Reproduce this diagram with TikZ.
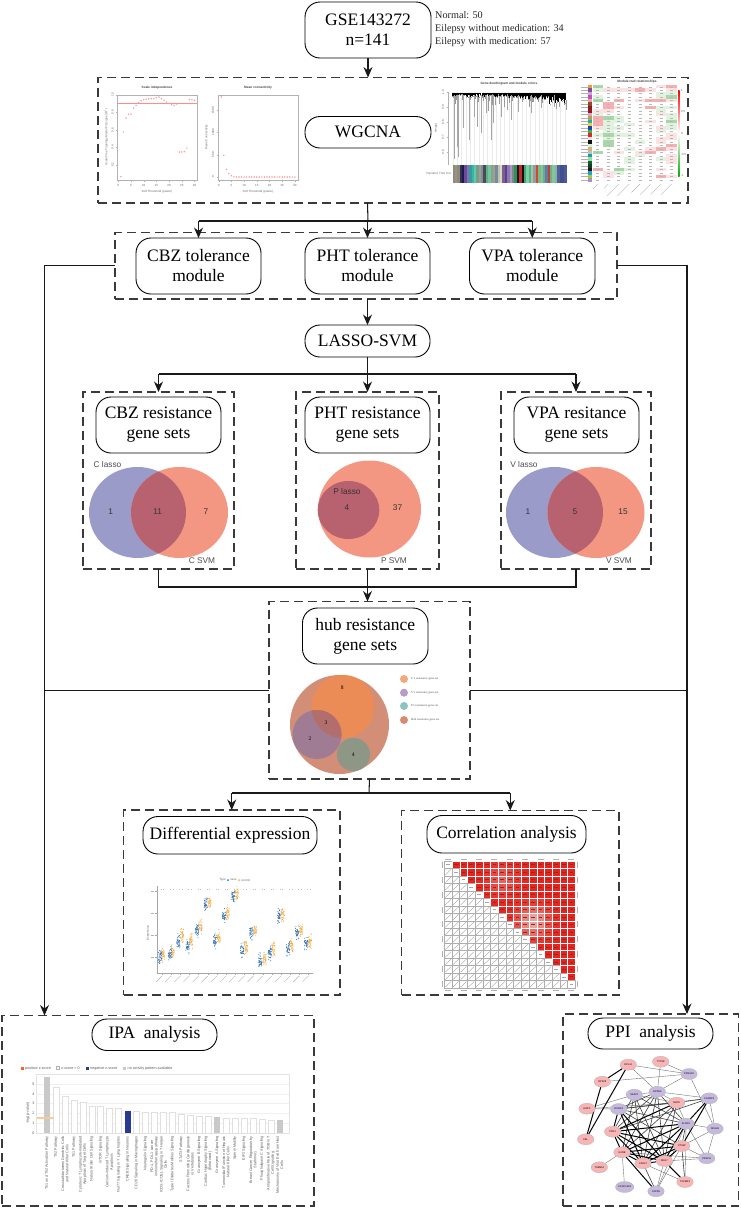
\documentclass[tikz,border=0pt]{standalone}
\usepackage{fontspec}
\setmainfont{Liberation Serif}
\setsansfont{Liberation Sans}
\usetikzlibrary{arrows.meta,backgrounds,shapes.geometric}
\definecolor{dashc}{HTML}{3A3A3A}
\definecolor{vblue}{HTML}{9A9BC9}
\definecolor{vred}{HTML}{F49782}
\definecolor{vmix}{HTML}{B9626F}
\definecolor{ppink}{HTML}{F9B5B5}
\definecolor{ppurp}{HTML}{C5BADD}
\definecolor{ipablue}{HTML}{2B3990}
\definecolor{ipagray}{HTML}{C9C9C9}
\definecolor{ipaorg}{HTML}{F26522}
\definecolor{ipathr}{HTML}{F9C998}
\definecolor{corred}{HTML}{E8221C}
\definecolor{corpale}{HTML}{E6C4C0}
\definecolor{cordark}{HTML}{8E2A28}
\definecolor{dotb}{HTML}{2E6DB4}
\definecolor{doto}{HTML}{F2A93B}
\definecolor{hmG}{HTML}{A8D8A8}
\definecolor{hmg}{HTML}{E2F2E1}
\definecolor{hmR}{HTML}{F8AFAF}
\definecolor{hmr}{HTML}{FCE3E3}
\definecolor{hubbig}{HTML}{D28E76}
\definecolor{huborg}{HTML}{EB8B55}
\definecolor{hubpur}{HTML}{A07C94}
\definecolor{hubmix}{HTML}{B26E6C}
\definecolor{hubgry}{HTML}{8E9686}
\tikzset{
  x=1pt,y=-1pt,
  titlebox/.style={draw=black,line width=0.9pt,rounded corners=15pt,align=center,inner sep=0pt,outer sep=0pt,
     font=\fontsize{17.5}{20}\selectfont},
  dbox/.style={draw=dashc,line width=1.1pt,dash pattern=on 9pt off 5pt,inner sep=0pt,outer sep=0pt},
  conn/.style={draw=black!90,line width=1.05pt},
  arr/.style={conn,-{Stealth[length=10.5pt,width=9pt,inset=3.5pt]}},
  gnode/.style={ellipse,draw=black!30,line width=0.3pt,minimum width=16.5pt,minimum height=11pt,inner sep=0pt,outer sep=0pt,
     font=\sffamily\fontsize{2.5}{3}\selectfont},
  pk/.style={gnode,fill=ppink},
  pu/.style={gnode,fill=ppurp},
  vlab/.style={font=\sffamily\fontsize{8.3}{10}\selectfont,inner sep=0pt,text=black!80},
  hublab/.style={font=\fontsize{5.5}{6}\selectfont,inner sep=0pt},
  hubleg/.style={font=\fontsize{3}{4}\selectfont,inner sep=0pt,anchor=west,text=black!70},
  tiny/.style={font=\sffamily\fontsize{3}{3.5}\selectfont,inner sep=0pt,text=black!60},
  tinyb/.style={font=\sffamily\bfseries\fontsize{3.2}{4}\selectfont,inner sep=0pt,text=black!75},
  ipatxt/.style={font=\sffamily\fontsize{3.7}{4.3}\selectfont,inner sep=0pt,text=black!65,rotate=90,anchor=east,align=center},
  ipaleg/.style={font=\sffamily\fontsize{3.7}{4.3}\selectfont,inner sep=0pt,text=black!65,anchor=west},
  strk/.style={draw=black!30,line width=0.45pt},
}
\newcommand{\tbox}[6]{%
  \pgfmathsetmacro\rsw{#4-#2}\pgfmathsetmacro\rsh{#5-#3}\pgfmathsetmacro\rscx{(#2+#4)/2}\pgfmathsetmacro\rscy{(#3+#5)/2}%
  \node[titlebox,minimum width=\rsw pt,minimum height=\rsh pt] (#1) at (\rscx,\rscy) {#6};}
\newcommand{\dbx}[5]{%
  \pgfmathsetmacro\rsw{#4-#2}\pgfmathsetmacro\rsh{#5-#3}\pgfmathsetmacro\rscx{(#2+#4)/2}\pgfmathsetmacro\rscy{(#3+#5)/2}%
  \node[dbox,minimum width=\rsw pt,minimum height=\rsh pt] (#1) at (\rscx,\rscy) {};}
\newcommand{\venn}[5]{%
  \fill[vblue] (#1,#3) ellipse[x radius=#4,y radius=#5];
  \fill[vred] (#2,#3) ellipse[x radius=#4,y radius=#5];
  \begin{scope}\clip (#1,#3) ellipse[x radius=#4,y radius=#5];
  \fill[vmix] (#2,#3) ellipse[x radius=#4,y radius=#5];\end{scope}}
\begin{document}
\begin{tikzpicture}
\useasboundingbox (0,0) rectangle (740,1208);

% ---------- titles and frames
\tbox{gse}{305}{2}{431}{58}{\fontsize{17.5}{22}\selectfont GSE143272\\n=141}
\node[anchor=north west,align=left,inner sep=0pt,font=\fontsize{10.2}{13.2}\selectfont,text=black!85] (gsetxt) at (435,11) {Normal: 50\\Eilepsy without medication: 34\\Eilepsy with medication: 57};
\dbx{wg}{98}{77.5}{688}{203}
\tbox{wgt}{305}{116.5}{431}{148}{WGCNA}
\dbx{tol}{115}{232.5}{617}{299}
\tbox{cbzt}{136}{238}{261}{294}{CBZ tolerance\\module}
\tbox{phtt}{305}{238}{430}{294}{PHT tolerance\\module}
\tbox{vpat}{469.5}{238}{595}{294}{VPA tolerance\\module}
\tbox{lasso}{305}{325}{430}{357}{LASSO-SVM}
\dbx{cres}{83}{392}{234}{569}
\dbx{mres}{296}{392}{439}{569}
\dbx{vres}{501}{392}{651}{569}
\tbox{cbzr}{96}{397}{221}{453}{CBZ resistance\\gene sets}
\tbox{phtr}{305}{397}{430}{453}{PHT resistance\\gene sets}
\tbox{vpar}{514}{397}{639}{453}{VPA resitance\\gene sets}
\dbx{hub}{269}{601.5}{470}{779}
\tbox{hubt}{302.5}{608}{428}{664}{hub resistance\\gene sets}
\dbx{diff}{123.5}{810}{340}{995}
\tbox{difft}{143}{816.5}{317}{854}{Differential expression}
\dbx{corr}{401.5}{810.5}{619}{995}
\tbox{corrt}{427}{815.5}{586}{853}{Correlation analysis}
\dbx{ipa}{2}{1015.5}{314}{1206}
\tbox{ipat}{92}{1019}{217}{1050.5}{IPA\ \ analysis}
\dbx{ppi}{563}{1014}{738.5}{1206}
\tbox{ppit}{588}{1018}{713}{1049}{PPI\ \ analysis}

% ---------- connectors
\coordinate (fk1) at (368,221);
\draw[arr] (gse.south) -- (gse.south |- wg.north);
\draw[conn] (wg.south -| phtt) -- (fk1);
\draw[conn] (fk1 -| cbzt) -- (fk1 -| vpat);
\draw[arr] (fk1 -| cbzt) -- (cbzt.north);
\draw[arr] (fk1 -| phtt) -- (phtt.north);
\draw[arr] (fk1 -| vpat) -- (vpat.north);
\draw[arr] (tol.south -| lasso) -- (lasso.north);
\coordinate (fk2) at (368,374);
\draw[conn] (lasso.south) -- (fk2 -| lasso);
\draw[conn] (fk2 -| cres) -- (fk2 -| vres);
\draw[arr] (fk2 -| cres) -- (cres.north);
\draw[arr] (fk2 -| mres) -- (mres.north);
\draw[arr] (fk2 -| vres) -- (vres.north);
\coordinate (jn) at (366,587);
\draw[conn] (cres.south) |- (jn);
\draw[conn] (vres.south) |- (jn);
\draw[arr] (mres.south) -- (mres.south |- hub.north);
\coordinate (lt) at (44.5,1015.5);
\coordinate (rt) at (687,1014);
\draw[arr] (tol.west) -| (lt);
\draw[arr] (tol.east) -| (rt);
\draw[conn] (hub.west) -- (hub.west -| lt);
\draw[conn] (hub.east) -- (hub.east -| rt);
\coordinate (fk3) at (369,793);
\draw[conn] (hub.south) -- (fk3);
\draw[conn] (fk3 -| diff) -- (fk3 -| corr);
\draw[arr] (fk3 -| diff) -- (diff.north);
\draw[arr] (fk3 -| corr) -- (corr.north);

% ---------- WGCNA: scale independence
\draw[black!30,line width=0.4pt] (117,94.7) rectangle (197,180);
\draw[black!30,line width=0.4pt] (218,94.7) rectangle (298,180);
\node[tinyb] at (157,87.7) {Scale independence};
\node[tinyb] at (258,87.7) {Mean connectivity};
\node[tiny] at (157,192) {Soft Threshold (power)};
\node[tiny] at (258,192) {Soft Threshold (power)};
\node[tiny,rotate=90] at (106,137) {Scale Free Topology Model Fit (signed R\textsuperscript{2})};
\node[tiny,rotate=90] at (206.5,137) {Mean Connectivity};
\foreach \v [count=\n from 0] in {0,5,10,15,20,25,30}{
  \pgfmathsetmacro\xa{118.3+\n*12.7}\pgfmathsetmacro\xb{218.7+\n*12.7}
  \draw[black!30,line width=0.3pt] (\xa,180) -- (\xa,181.5) (\xb,180) -- (\xb,181.5);
  \node[tiny] at (\xa,185) {\v};
  \node[tiny] at (\xb,185) {\v};
}
\foreach \v/\z in {0.2/248,0.4/196,0.6/144,0.8/90,1.0/38}{
  \pgfmathsetmacro\yy{82+\z/3}
  \draw[black!30,line width=0.3pt] (117,\yy) -- (115.5,\yy);
  \node[tiny,rotate=90] at (112.5,\yy) {\v};
}
\foreach \v/\z in {0/285,500/218,1000/150,1500/85}{
  \pgfmathsetmacro\yy{82+\z/3}
  \draw[black!30,line width=0.3pt] (218,\yy) -- (216.5,\yy);
  \node[tiny,rotate=90] at (213,\yy) {\v};
}
\draw[red!45,line width=0.5pt] (117,103.3) -- (197,103.3);
\foreach \p/\z in {1/284,2/150,3/108,4/97,5/96,6/78,7/70,8/62,9/56,10/53,11/52,12/51,13/50,14/50,15/47,16/45,17/50,18/55,19/60,20/64,21/68,22/70,23/66,24/210,25/210,26/209,27/198,28/53,29/53,30/55}{
  \fill[red!40] ({118.3+2.54*\p},{82+\z/3}) circle[radius=0.85];
}
\foreach \p/\z in {1/45,2/220,3/262,4/275,5/281,6/284,7/285,8/285,9/285,10/285,11/285,12/285,13/285,14/285,15/285,16/285,17/285,18/285,19/285,20/285,21/285,22/285,23/285,24/285,25/285,26/285,27/285,28/285,29/285,30/285}{
  \fill[red!40] ({218.7+2.54*\p},{82+\z/3}) circle[radius=0.85];
}

% ---------- WGCNA: dendrogram
\node[tinyb] at (509,84) {Gene dendrogram and module colors};
\node[tiny,rotate=90] at (436,128) {Height};
\draw[black!30,line width=0.3pt] (448,92) -- (448,165);
\foreach \v/\yy in {1.0/92,0.9/107,0.8/122,0.7/137,0.6/152}{
  \draw[black!30,line width=0.3pt] (448,\yy) -- (446.5,\yy);
  \node[tiny,rotate=90] at (443,\yy) {\v};
}
\node[tiny,anchor=east] at (451,173.7) {Dynamic Tree Cut};
\foreach \i in {0,...,26}{\draw[black!8,line width=0.3pt] ({453+\i*4.3},97) -- ({453+\i*4.3},165);}
\pgfmathsetseed{11}
\foreach \i in {0,...,112}{
  \pgfmathsetmacro\xx{452.5+\i*1.012}
  \pgfmathsetmacro\ll{94+rnd*3.5+(\i>55)*1.5+(\i>95)*rnd*6}
  \draw[black,line width=0.7pt] (\xx,92.7) -- (\xx,\ll);
  \pgfmathsetmacro\lg{\ll+rnd*rnd*rnd*24}
  \draw[black!40,line width=0.3pt] (\xx,\ll) -- (\xx,\lg);
}
\foreach \z/\d in {1020/478,1028/440,1032/470,1045/385,1062/420,1075/350,1083/380,1095/400,1110/340,1122/420,1130/370,1150/350,1168/330,1178/360,1200/335,1235/340,1262/325,1300/320}{
  \draw[black!35,line width=0.4pt] ({90+\z/2.8},95) -- ({90+\z/2.8},{\d/3});
}
\foreach \c [count=\n from 0] in {8C8C7A,9A9384,8E8A76,3A2E5C,1C1C4A,6B4C9A,8A6FB0,2E9E9E,39B5A5,5FC9A8,7A9A8C,9AA090,7E8E9A,4A4A5A,5FB07F,70C8A0,8E9F90,A0A090,6F8FA0,C8C0A8,D8D8D0,7A5F8F,5B3F90,8C79B0,A89AC0,7A8A80,2F8F5F,1A1A1A,C82828,111111,3FA87A,7FCF9F,58B090,9FC8A0,8F9F9F,E04030,6FBF8F,88C890,6FA890,5F7F9F,C04040,70B088,80C898,90B0A0,50609A,40508F,3F4F90,4A5A95}{
  \definecolor{stc}{HTML}{\c}
  \fill[stc] ({452.5+\n*2.38},165) rectangle ({452.5+\n*2.38+2.45},182.7);
}

% ---------- WGCNA: module-trait heat map
\node[tinyb] at (637,81.7) {Module-trait relationships};
\foreach \r in {0,...,27}{
  \pgfmathsetmacro\yy{85+\r*3.45}
  \draw[black!30,line width=0.4pt] (581,{\yy+1.7}) -- (587.5,{\yy+1.7});
}
\foreach \c [count=\n from 0] in {F29A2E,7A4FA8,D0A0D0,C050C0,F0A0A0,8B4A2B,8B1A1A,8B1A2B,E8A0C0,B0A060,18B0B0,F0D020,2040C0,20C040,F02020,E0E8F0,101010,D8F0D8,D0B080,C0C0C0,18A0A8,90E0A0,106030,104020,301010,20A0E0,A0D030,B090B0}{
  \definecolor{stc}{HTML}{\c}
  \fill[stc] (588.3,{85+\n*3.45}) rectangle (592.3,{85+\n*3.45+3.45});
}
\foreach \r/\c/\k in {0/0/hmG,1/0/hmg,3/0/hmg,4/0/hmG,4/2/hmR,4/4/hmr,4/5/hmR,4/6/hmR,5/1/hmR,6/1/hmR,6/2/hmr,7/1/hmr,7/0/hmr,8/0/hmg,9/0/hmR,9/1/hmG,9/2/hmg,10/0/hmR,10/1/hmg,10/2/hmg,11/0/hmR,11/1/hmg,11/3/hmg,12/0/hmr,12/1/hmg,12/2/hmg,13/1/hmg,14/0/hmg,14/1/hmG,14/2/hmg,14/3/hmg,15/1/hmg,16/1/hmG,17/1/hmG,18/3/hmg,18/5/hmr,18/6/hmR,19/0/hmG,19/2/hmr,19/4/hmr,19/5/hmR,20/4/hmg,21/3/hmg,22/3/hmg,24/0/hmR,24/2/hmG,24/3/hmg,25/1/hmr,25/2/hmg,26/1/hmr,1/1/hmr,1/2/hmr,1/3/hmr,1/4/hmR,1/5/hmr,2/6/hmg,3/6/hmg,6/5/hmR,8/6/hmr,10/5/hmr,13/6/hmg,16/4/hmg,0/6/hmr,0/7/hmR,1/7/hmr,2/7/hmg,3/7/hmG,4/7/hmr,6/6/hmg,6/7/hmg,7/6/hmg,8/7/hmg,9/7/hmg,10/7/hmG,11/7/hmg,12/6/hmr,12/7/hmg,14/7/hmr,15/6/hmr,15/7/hmr,16/6/hmr,17/7/hmR,18/7/hmr,20/7/hmr,21/6/hmg,21/7/hmr,22/7/hmr,24/6/hmr,26/6/hmR,26/7/hmr}{
  \fill[\k] ({592.5+\c*10.55},{85+\r*3.45}) rectangle ({592.5+\c*10.55+10.55},{85+\r*3.45+3.45});
}
\foreach \r in {0,...,27}{\foreach \c in {0,...,7}{
  \draw[black!28,line width=0.3pt] ({592.5+\c*10.55+3.8},{85+\r*3.45+1.7}) -- ({592.5+\c*10.55+6.8},{85+\r*3.45+1.7});
}}
\foreach \c/\l in {0/7,1/6,2/17,3/17,4/12,5/15,6/15,7/15}{
  \pgfmathsetmacro\xx{597.8+\c*10.55}
  \draw[strk,line width=0.4pt] (\xx,184) -- ({\xx-\l*0.7},{184+\l*0.7});
}
\shade[top color=red,bottom color=white] (678,90.7) rectangle (679.6,133.3);
\shade[top color=white,bottom color=green!70!black] (678,133.3) rectangle (679.6,176);
\foreach \v/\yy in {1/90.7,0.5/111.7,0/133.3,-0.5/154.3,-1/175.3}{
  \node[tiny,anchor=west] at (681,\yy) {\v};
}

% ---------- Venn diagrams
\venn{137.5}{179.5}{512.5}{48.5}{45.5}
\node[vlab,text=black!70] at (107.5,465) {C lasso};
\node[vlab] at (110.6,512) {1};
\node[vlab] at (157.6,512) {11};
\node[vlab] at (206,512) {7};
\node[vlab,text=black!70] at (202,561) {C SVM};
\fill[vred] (369.5,509) ellipse[x radius=51.5,y radius=48.5];
\fill[vmix] (348.5,510) ellipse[x radius=30.8,y radius=29];
\node[vlab] at (347,492) {P lasso};
\node[vlab] at (347,508) {4};
\node[vlab] at (397.5,508) {37};
\node[vlab,text=black!70] at (394,561) {P SVM};
\venn{554.5}{596}{512.5}{48.5}{45.5}
\node[vlab,text=black!70] at (524,465) {V lasso};
\node[vlab] at (528,512) {1};
\node[vlab] at (575,512) {5};
\node[vlab] at (623,512) {15};
\node[vlab,text=black!70] at (619,561) {V SVM};

% ---------- hub Venn
\fill[hubbig] (339.5,724.5) circle[radius=49.5];
\fill[huborg] (343,706.5) circle[radius=31.5];
\fill[hubpur] (317,734.5) circle[radius=24.5];
\begin{scope}\clip (343,706.5) circle[radius=31.5];
\fill[hubmix] (317,734.5) circle[radius=24.5];\end{scope}
\fill[hubgry] (353.5,754.5) circle[radius=16.6];
\node[hublab] at (342.3,687.7) {8};
\node[hublab] at (326,722.7) {3};
\node[hublab] at (310,738.5) {2};
\node[hublab] at (353.3,754.7) {4};
\foreach \yy/\cc/\lbl in {679/F4A978/C's resistance gene set,692.7/B79CC4/V's resistance gene set,706/8CC5BD/P's resistance gene set,720/D98B72/Hub resistance gene set}{
  \definecolor{stc}{HTML}{\cc}
  \fill[stc] (404,\yy) circle[radius=4];
  \node[hubleg] at (411,\yy) {\lbl};
}

% ---------- differential expression plot
\draw[black!35,line width=0.4pt] (156.7,886) -- (156.7,973.3) -- (313,973.3);
\foreach \yy in {890.7,912.7,934.7,956.7}{
  \draw[black!35,line width=0.3pt] (156.7,\yy) -- (155,\yy);
  \draw[strk,line width=0.4pt] (151,\yy) -- (154,\yy);
}
\node[tiny,rotate=90] at (148,933) {Expression};
\node[tiny,anchor=east] at (226,880) {Type};
\fill[dotb] (228,880) circle[radius=1];
\node[tiny,anchor=west] at (230,880) {case};
\fill[doto] (239,880) circle[radius=1];
\node[tiny,anchor=west] at (241,880) {control};
\foreach \n in {0,...,16}{
  \pgfmathsetmacro\xx{161+\n*9.15}
  \draw[black!25,line width=0.4pt,dotted] (\xx,889) -- ({\xx+4},889);
  \draw[black!35,line width=0.3pt] ({\xx+1},973.3) -- ({\xx+1},975);
  \draw[strk,line width=0.4pt] ({\xx+1},976) -- ({\xx-5},982);
}
\pgfmathsetseed{5}
\foreach \xa/\ya/\xb/\yb in {120/470/130/462,150/462/158/455,175/425/186/405,203/438/213/425,231/390/241/380,257/313/268/305,285/422/296/415,312/347/323/338,340/290/350/285,367/450/378/442,394/398/405/392,421/482/433/478,449/458/460/447,476/350/488/343,504/448/515/438,531/400/543/390,558/432/570/425}{
  \foreach \k in {1,...,40}{
    \pgfmathsetmacro\px{120+\xa/3+(rnd-0.5)*3.4}
    \pgfmathsetmacro\py{800+\ya/3+(rnd+rnd+rnd-1.5)*6.5}
    \fill[dotb] (\px,\py) circle[radius=0.48];
    \pgfmathsetmacro\qx{120+\xb/3+(rnd-0.5)*3.4}
    \pgfmathsetmacro\qy{800+\yb/3+(rnd+rnd+rnd-1.5)*6.5}
    \fill[doto] (\qx,\qy) circle[radius=0.48];
  }
}

% ---------- correlation matrix
\foreach \i in {0,...,16}{\foreach \j in {0,...,16}{
  \pgfmathsetmacro\xx{444.3+\j*7.7}
  \pgfmathsetmacro\yy{861+\i*7.47}
  \ifnum\j>\i
    \pgfmathsetmacro\tv{max(12,100-40*exp(-((\i-2)^2+(\j-7)^2)/4)-85*exp(-((\i-7.5)^2+(\j-11)^2)/4))}
    \fill[corred!\tv!corpale,draw=white,line width=0.4pt] (\xx,\yy) rectangle ({\xx+7.7},{\yy+7.47});
    \draw[cordark,line width=0.6pt] ({\xx+2},{\yy+3.7}) -- ({\xx+5.7},{\yy+3.7});
  \else
    \draw[black!32,line width=0.45pt] (\xx,\yy) rectangle ({\xx+7.7},{\yy+7.47});
    \ifnum\j<\i
      \draw[black!40,line width=0.35pt] ({\xx+1},{\yy+6.5}) -- ({\xx+6.7},{\yy+1});
    \else
      \draw[black!35,line width=0.5pt] ({\xx+2},{\yy+3.7}) -- ({\xx+5.7},{\yy+3.7});
    \fi
  \fi
}}
\foreach \i in {0,2,...,16}{
  \pgfmathsetmacro\xx{448.2+\i*7.7}
  \pgfmathsetmacro\yy{864.7+\i*7.47}
  \draw[strk] ({\xx-3},859) -- ({\xx+3},859);
  \draw[strk] ({\xx-3},990.5) -- ({\xx+3},990.5);
  \draw[strk] (442.5,{\yy-3}) -- (442.5,{\yy+3});
  \draw[strk] (577,{\yy-3}) -- (577,{\yy+3});
}

% ---------- IPA chart
\fill[ipaorg] (20.5,1066.5) rectangle (23.5,1069.5);
\node[ipaleg] at (25,1068.3) {positive z-score};
\draw[black!30,line width=0.3pt] (56.5,1066.5) rectangle (59.5,1069.5);
\node[ipaleg] at (61,1068.3) {z-score = 0};
\fill[ipablue] (85.5,1066.5) rectangle (88.5,1069.5);
\node[ipaleg] at (90,1068.3) {negative z-score};
\fill[ipagray] (122.5,1066.5) rectangle (125.5,1069.5);
\node[ipaleg] at (127.5,1068.3) {no activity pattern available};
\foreach \v in {1,2,3,4,5}{
  \draw[black!6,line width=0.4pt] (36.7,{1133-\v*9.8}) -- (289,{1133-\v*9.8});
}
\draw[black!11,line width=0.5pt] (36.7,1133) -- (36.7,1074.5) -- (289,1074.5) -- (289,1133) -- cycle;
\foreach \v in {0,1,2,3,4,5}{
  \node[font=\sffamily\fontsize{3.7}{4}\selectfont,inner sep=0pt,text=black!65] at (33.5,{1133-\v*9.8}) {\v};
}
\node[font=\sffamily\fontsize{3.7}{4}\selectfont,inner sep=0pt,text=black!65,rotate=90] at (28,1113) {-log(p-value)};
\foreach \h/\k [count=\n from 0] in {5.7/2,4.7/0,3.75/0,3.35/0,3.1/0,2.75/0,2.7/0,2.55/0,2.55/0,2.25/1,2.2/0,2.1/0,2.1/0,2.1/0,2.1/0,1.95/0,1.85/0,1.75/0,1.7/0,1.65/2,1.55/0,1.55/0,1.55/0,1.5/0,1.4/0,1.35/0,1.35/2}{
  \pgfmathsetmacro\xx{47+\n*8.95}
  \ifcase\k\relax
    \draw[black!12,fill=white,line width=0.5pt] ({\xx-3},1133) rectangle ({\xx+3},{1133-\h*9.8});
  \or
    \fill[ipablue] ({\xx-3},1133) rectangle ({\xx+3},{1133-\h*9.8});
  \or
    \fill[ipagray] ({\xx-3},1133) rectangle ({\xx+3},{1133-\h*9.8});
  \fi
}
\draw[ipathr,line width=1.4pt] (37.3,1118) -- (54,1118);
\foreach \tx [count=\n from 0] in {Th1 and Th2 Activation Pathway,Th2 Pathway,Crosstalk between Dendritic Cells\\and Natural Killer Cells,Th1 Pathway,Cytotoxic T Lymphocyte-mediated\\Apoptosis of Target Cells,Natural Killer Cell Signaling,mTOR Signaling,Calcium-induced T Lymphocyte\\Apoptosis,Nur77 Signaling in T Lymphocytes,CREB Signaling in Neurons,CD28 Signaling in Macrophages,Neuregulin Signaling,{PD-1, PD-L1 cancer\\immunotherapy pathway},ICOS-ICOSL Signaling in T Helper\\Cells,Type I Diabetes Mellitus Signaling,STAT3 Pathway,Factors Promoting Cardiogenesis\\in Vertebrates,Granzyme B Signaling,Cardiac Hypertrophy Signaling\\(Enhanced),Granzyme A Signaling,Tumoricidal Function of Hepatic\\Natural Killer Cells,Sperm Motility,EIF2 Signaling,Breast Cancer Regulation by\\Stathmin1,Phospholipase C Signaling,Antiproliferative Role of TOB in T\\Cell Signaling,Mechanisms of Viral Exit from Host\\Cells}{
  \node[ipatxt] at ({47+\n*8.95},1136) {\tx};
}

% ---------- PPI network
\node[pk] (RPLfourteen) at (628.3,1064.7) {RPL14};
\node[pk] (TTC) at (660.7,1061.7) {TTC38};
\node[pu] (PRSS) at (689,1074) {PRSS23};
\node[pk] (RPS) at (602.3,1081.7) {RPS28};
\node[pu] (FGFBP) at (709.3,1098.3) {FGFBP2};
\node[pu] (SKAP) at (634.3,1094.7) {SKAP1};
\node[pu] (GPR) at (657.3,1091.7) {GPR56};
\node[pk] (MATK) at (676.7,1102.7) {MATK};
\node[pk] (HOPX) at (587,1108.7) {HOPX};
\node[pu] (RUNX) at (618.7,1109) {RUNX3};
\node[pu] (KLRD) at (686,1123.7) {KLRD1};
\node[pu] (NCALD) at (715,1128.7) {NCALD};
\node[pk] (PRF) at (612.7,1131.7) {PRF1};
\node[pk] (FBL) at (585.7,1139.3) {FBL};
\node[pk] (CTSW) at (681.7,1146) {CTSW};
\node[pk] (IL) at (622,1152.3) {IL2RB};
\node[pu] (PRKCH) at (706.7,1158.3) {PRKCH};
\node[pk] (CD) at (643,1163.3) {CD247};
\node[pk] (NKG) at (664.3,1161) {NKG7};
\node[pk] (TSEN) at (599.3,1167.3) {TSEN54};
\node[pk] (TGF) at (685,1182) {TGFBR3};
\node[pu] (CCDC) at (624.7,1187) {CCDC102A};
\node[pu] (SPR) at (656,1191.3) {S1PR5};
\begin{scope}[on background layer]
\foreach \a/\b in {RPLfourteen/GPR,RPLfourteen/PRSS,RPS/PRSS,TTC/PRSS,TTC/GPR,PRSS/GPR,PRSS/NCALD,FGFBP/GPR,FGFBP/NCALD,NCALD/KLRD,NCALD/PRKCH,NCALD/CTSW,HOPX/SKAP,HOPX/MATK,HOPX/RUNX,TSEN/IL,CCDC/IL,SPR/NKG,SPR/CTSW,TGF/KLRD,PRKCH/NKG,PRKCH/CTSW,PRKCH/IL,PRKCH/KLRD,SKAP/MATK,SKAP/GPR,GPR/MATK,MATK/FGFBP,MATK/KLRD,SPR/KLRD,CD/TGF}{
  \draw[black!55,line width=0.4pt] (\a) -- (\b);
}
\foreach \a/\b in {SKAP/NKG,SKAP/CD,GPR/CD,GPR/NKG,GPR/PRF,GPR/IL,GPR/RUNX,MATK/RUNX,MATK/CD,MATK/NKG,MATK/IL,FGFBP/PRF,FGFBP/RUNX,SKAP/KLRD,SKAP/PRF,SKAP/IL,KLRD/CTSW,CTSW/TGF,SPR/CD,GPR/KLRD,RUNX/KLRD,RUNX/CTSW}{
  \draw[black!75,line width=0.6pt] (\a) -- (\b);
}
\foreach \a/\b in {RPLfourteen/RPS,RPLfourteen/FBL,RPS/FBL,PRF/CD,PRF/NKG,PRF/IL,PRF/CTSW,PRF/KLRD,RUNX/CD,RUNX/NKG,IL/CD,IL/NKG,IL/CTSW,CD/NKG,NKG/CTSW,NKG/KLRD,CD/KLRD,CD/CTSW,FGFBP/CTSW,FGFBP/KLRD,SPR/IL,TGF/NKG,PRF/RUNX,PRF/MATK,IL/KLRD}{
  \draw[black,line width=1pt] (\a) -- (\b);
}
\end{scope}
\end{tikzpicture}
\end{document}
